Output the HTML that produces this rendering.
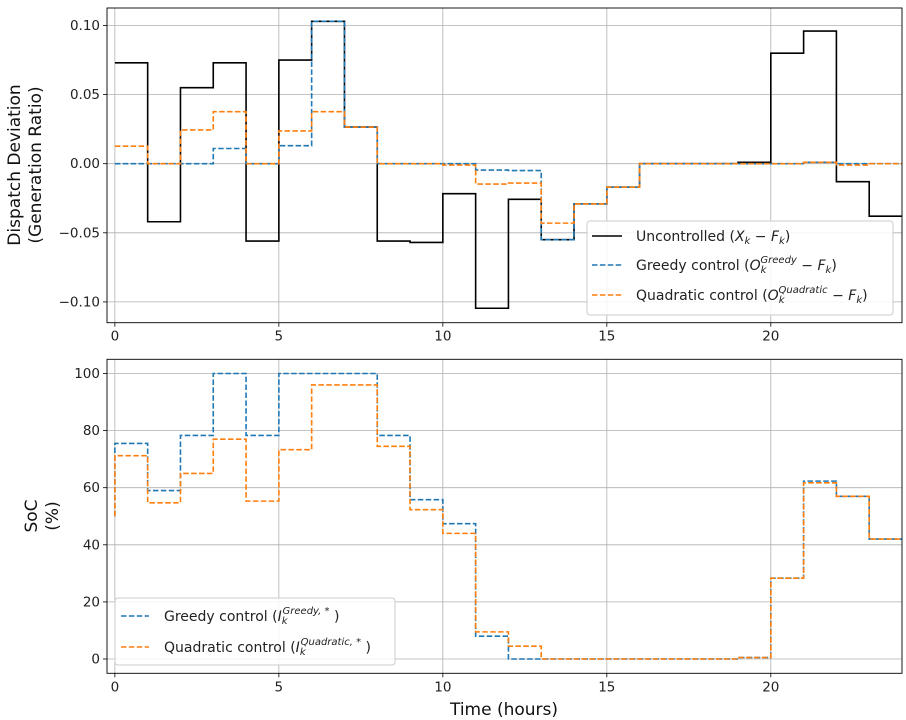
<!DOCTYPE html>
<html><head><meta charset="utf-8"><style>
html,body{margin:0;padding:0;background:#fff;}
svg{display:block;font-family:"DejaVu Sans","Liberation Sans",sans-serif;}
</style></head><body>
<svg id="chart" width="906" height="720" viewBox="0 0 906 720"></svg>
<script>
const hours = [0,1,2,3,4,5,6,7,8,9,10,11,12,13,14,15,16,17,18,19,20,21,22,23];
const uncontrolled = [0.073,-0.042,0.055,0.073,-0.056,0.075,0.103,0.0265,-0.056,-0.057,-0.0217,-0.1046,-0.0258,-0.055,-0.029,-0.017,0,0,0,0.001,0.080,0.096,-0.013,-0.038];
const greedyDev = [0,0,0,0.011,0,0.013,0.103,0.0265,0,0,0,-0.0046,-0.005,-0.055,-0.029,-0.017,0,0,0,0,0,0.001,0,0];
const quadDev = [0.0127,0,0.0244,0.0376,0,0.0237,0.0376,0.0265,0,0,-0.001,-0.0147,-0.014,-0.043,-0.029,-0.017,0,0,0,0,0,0.001,-0.001,0];
const socStart = 50;
const greedySoc = [75.5,59,78.3,100,78.3,100,100,100,78.3,55.8,47.4,8,0,0,0,0,0,0,0,0.5,28.3,62.3,57,42];
const quadSoc = [71.2,54.7,65,77,55.3,73.3,96,96,74.5,52.3,44,9.5,4.5,0,0,0,0,0,0,0.5,28.3,61.7,57,42];
const xTicks = [0,5,10,15,20];
const yTopTicks = [0.10,0.05,0.00,-0.05,-0.10];
const yTopLabels = ["0.10","0.05","0.00","\u22120.05","\u22120.10"];
const yBotTicks = [0,20,40,60,80,100];

const NS="http://www.w3.org/2000/svg";
const svg=document.getElementById('chart');
function mk(tag,attrs,parent){const e=document.createElementNS(NS,tag);for(const k in attrs)e.setAttribute(k,attrs[k]);(parent||svg).appendChild(e);return e;}
const L=107,R=902;
const xs=v=>L+(v+0.24)*(R-L)/24.24;
const yTop=v=>163.7-v*1382;
const yBot=v=>659-v*2.855;
const TT=8,TB=322.7,BT=359.3,BB=673.3;

function axes(top,bot,ticks,yf,labels,name){
  const g=mk('g',{});
  
  
  xTicks.forEach(t=>{mk('line',{x1:xs(t),x2:xs(t),y1:top,y2:bot,stroke:'#b0b0b0','stroke-width':0.8},g);
    mk('line',{x1:xs(t),x2:xs(t),y1:bot,y2:bot+4,stroke:'#000','stroke-width':0.8},g);
    const tx=mk('text',{x:xs(t),y:bot+18,'font-size':13.5,'text-anchor':'middle',fill:'#222'},g);tx.textContent=t;
    
    });
  ticks.forEach((t,i)=>{mk('line',{x1:L,x2:R,y1:yf(t),y2:yf(t),stroke:'#b0b0b0','stroke-width':0.8},g);
    mk('line',{x1:L-4,x2:L,y1:yf(t),y2:yf(t),stroke:'#000','stroke-width':0.8},g);
    const tx=mk('text',{x:L-7,y:yf(t)+4.5,'font-size':13.5,'text-anchor':'end',fill:'#222'},g);tx.textContent=labels[i];
    
    });
  return g;
}
axes(TT,TB,yTopTicks,yTop,yTopLabels,'top-axes');
axes(BT,BB,yBotTicks,yBot,yBotTicks.map(String),'bottom-axes');

function stepPost(vals,yf){let d='';vals.forEach((v,i)=>{d+=(i?'L':'M')+xs(hours[i])+','+yf(v)+'L'+xs(hours[i]+1)+','+yf(v);});return d;}
function stepPre(start,vals,yf){let d='M'+xs(0)+','+yf(start);vals.forEach((v,i)=>{d+='L'+xs(hours[i])+','+yf(v)+'L'+xs(hours[i]+1)+','+yf(v);});return d;}
function line(d,color,dash,name,clipId){const p=mk('path',{d:d,fill:'none',stroke:color,'stroke-width':1.6,'stroke-dasharray':dash||'none','clip-path':'url(#'+clipId+')'});
  
  }
const defs=mk('defs',{});
const c1=mk('clipPath',{id:'c1'},defs);mk('rect',{x:L,y:TT,width:R-L,height:TB-TT},c1);
const c2=mk('clipPath',{id:'c2'},defs);mk('rect',{x:L,y:BT,width:R-L,height:BB-BT},c2);
line(stepPost(uncontrolled,yTop),'#000',null,'uncontrolled-line','c1');
line(stepPost(greedyDev,yTop),'#1f77b4','5.5,2.4','greedy-deviation-line','c1');
line(stepPost(quadDev,yTop),'#ff7f0e','5.5,2.4','quadratic-deviation-line','c1');
line(stepPre(socStart,greedySoc,yBot),'#1f77b4','5.5,2.4','greedy-soc-line','c2');
line(stepPre(socStart,quadSoc,yBot),'#ff7f0e','5.5,2.4','quadratic-soc-line','c2');

mk('rect',{x:L,y:TT,width:R-L,height:TB-TT,fill:'none',stroke:'#000','stroke-width':0.9});
mk('rect',{x:L,y:BT,width:R-L,height:BB-BT,fill:'none',stroke:'#000','stroke-width':0.9});
</script>
<svg width="906" height="720" style="position:absolute;left:0;top:0" font-family="DejaVu Sans, Liberation Sans, sans-serif">
  <g>
    <rect x="587" y="221" width="306" height="94" rx="3" fill="#fff" fill-opacity="0.85" stroke="#ccc"/>
    <line x1="592" x2="622" y1="236" y2="236" stroke="#000" stroke-width="1.6"/>
    <text x="636" y="241" font-size="14" fill="#222">Uncontrolled (<tspan font-style="italic">X<tspan font-size="10" dy="3">k</tspan><tspan dy="-3"> − F</tspan><tspan font-size="10" dy="3">k</tspan></tspan><tspan dy="-3">)</tspan></text>
    <line x1="592" x2="622" y1="265" y2="265" stroke="#1f77b4" stroke-width="1.6" stroke-dasharray="5.5,2.4"/>
    <text x="636" y="270" font-size="14" fill="#222">Greedy control (<tspan font-style="italic">O<tspan font-size="10" dy="3">k</tspan><tspan font-size="10" dx="-6" dy="-10">Greedy</tspan><tspan dy="7"> − F</tspan><tspan font-size="10" dy="3">k</tspan></tspan><tspan dy="-3">)</tspan></text>
    <line x1="592" x2="622" y1="295" y2="295" stroke="#ff7f0e" stroke-width="1.6" stroke-dasharray="5.5,2.4"/>
    <text x="636" y="300" font-size="14" fill="#222">Quadratic control (<tspan font-style="italic">O<tspan font-size="10" dy="3">k</tspan><tspan font-size="10" dx="-6" dy="-10">Quadratic</tspan><tspan dy="7"> − F</tspan><tspan font-size="10" dy="3">k</tspan></tspan><tspan dy="-3">)</tspan></text>
  </g>
  <g>
    <rect x="115" y="598" width="280" height="67" rx="3" fill="#fff" fill-opacity="0.85" stroke="#ccc"/>
    <line x1="121" x2="149" y1="616" y2="616" stroke="#1f77b4" stroke-width="1.6" stroke-dasharray="5.5,2.4"/>
    <text x="164" y="621" font-size="14" fill="#222">Greedy control (<tspan font-style="italic">I<tspan font-size="10" dy="3">k</tspan><tspan font-size="10" dx="-5" dy="-10">Greedy, *</tspan></tspan><tspan dy="7"> )</tspan></text>
    <line x1="121" x2="149" y1="647" y2="647" stroke="#ff7f0e" stroke-width="1.6" stroke-dasharray="5.5,2.4"/>
    <text x="164" y="652" font-size="14" fill="#222">Quadratic control (<tspan font-style="italic">I<tspan font-size="10" dy="3">k</tspan><tspan font-size="10" dx="-5" dy="-10">Quadratic, *</tspan></tspan><tspan dy="7"> )</tspan></text>
  </g>
  <g font-size="17" fill="#111" text-anchor="middle">
    <text transform="translate(20,165) rotate(-90)">Dispatch Deviation</text>
    <text transform="translate(41,165) rotate(-90)">(Generation Ratio)</text>
  </g>
  <g font-size="17" fill="#111" text-anchor="middle">
    <text transform="translate(37,516) rotate(-90)">SoC</text>
    <text transform="translate(58,516) rotate(-90)">(%)</text>
  </g>
  <text x="504" y="715" font-size="17" fill="#111" text-anchor="middle">Time (hours)</text>
</svg>
</body></html>
